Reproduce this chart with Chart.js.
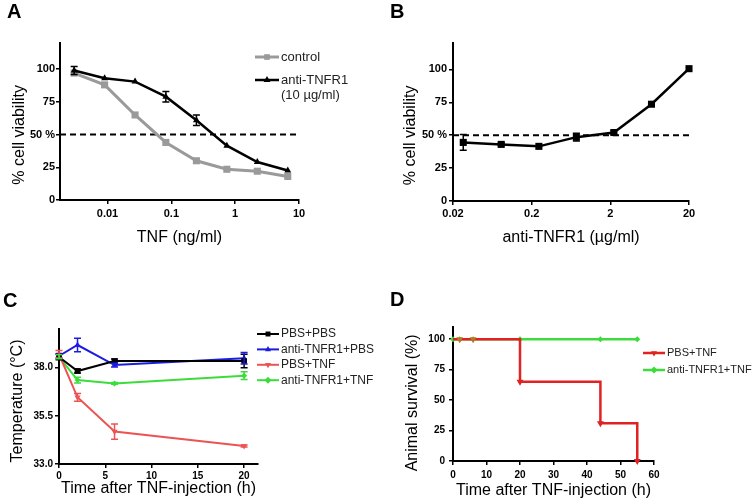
<!DOCTYPE html>
<html>
<head>
<meta charset="utf-8">
<script src="https://cdn.jsdelivr.net/npm/chart.js@4.4.1/dist/chart.umd.min.js"></script>
<style>
  body { margin: 0; background: #fff; }
  #fig { position: relative; width: 754px; height: 504px; }
  #fig canvas { position: absolute; }
</style>
</head>
<body>
<div id="fig">
  <canvas id="chartA" width="377" height="250" style="left:0;top:0"></canvas>
  <canvas id="chartB" width="377" height="250" style="left:377px;top:0"></canvas>
  <canvas id="chartC" width="377" height="254" style="left:0;top:250px"></canvas>
  <canvas id="chartD" width="377" height="254" style="left:377px;top:250px"></canvas>
</div>
<script>
// A - TNF dose response, with / without anti-TNFR1
const tnfDoses = [0.003, 0.009, 0.027, 0.082, 0.247, 0.74, 2.22, 6.67];
const controlViability = [97, 88, 65, 44, 30, 23.5, 22, 18];
const antiTnfr1Viability = [99, 93, 90.5, 79, 61, 41.5, 29, 22.5];
const antiTnfr1Err = [3, 0, 0, 4, 4, 0, 0, 0];
const tnfTicks = [0.01, 0.1, 1, 10];
const viabilityTicks = [0, 25, 50, 75, 100];

// B - anti-TNFR1 titration
const antibodyDoses = [0.027, 0.082, 0.247, 0.74, 2.22, 6.67, 20];
const antibodyViability = [44.5, 43, 41.5, 48.5, 52, 73.5, 100.5];
const antibodyErr = [6, 1, 0, 3, 1.5, 0, 0];
const antibodyTicks = [0.02, 0.2, 2, 20];

// C - body temperature
const tempHours = [0, 2, 6, 20];
const tempPbsPbs = [38.55, 37.82, 38.34, 38.34];
const errPbsPbs = [0.15, 0.1, 0.1, 0.35];
const tempAntiPbs = [38.6, 39.17, 38.13, 38.48];
const errAntiPbs = [0.1, 0.35, 0.1, 0.3];
const tempPbsTnf = [38.69, 36.46, 34.68, 33.93];
const errPbsTnf = [0.2, 0.2, 0.4, 0.05];
const tempAntiTnf = [38.56, 37.35, 37.18, 37.58];
const errAntiTnf = [0.1, 0.15, 0.05, 0.2];
const hourTicksC = [0, 5, 10, 15, 20];
const tempTicks = [33.0, 35.5, 38.0];

// D - survival
const survHours = [0, 2, 6, 20, 44, 55];
const survPbsTnf = [100, 100, 100, 65, 31, 0];
const survAntiTnf = [100, 100, 100, 100, 100, 100];
const hourTicksD = [0, 10, 20, 30, 40, 50, 60];
const survTicks = [0, 25, 50, 75, 100];

const FONT = "'Liberation Sans', Arial, Helvetica, sans-serif";
const pts = (xs, ys) => xs.map((x, i) => ({ x, y: ys[i] }));
// graphpad centres the y titles a bit lower than the plot middle
const pad = (t, n) => t + '\u00a0'.repeat(n);

// vertical error bars from ds.errors
const errorBars = {
  id: 'errorBars',
  afterDatasetsDraw(chart) {
    const ctx = chart.ctx;
    chart.data.datasets.forEach((ds, di) => {
      if (!ds.errors) return;
      const meta = chart.getDatasetMeta(di);
      const yScale = chart.scales[meta.yAxisID];
      ctx.save();
      ctx.strokeStyle = ds.borderColor;
      ctx.lineWidth = 1.5;
      meta.data.forEach((pt, i) => {
        const e = ds.errors[i];
        if (!e) return;
        const v = ds.data[i].y;
        const y1 = yScale.getPixelForValue(v + e);
        const y2 = yScale.getPixelForValue(v - e);
        ctx.beginPath();
        ctx.moveTo(pt.x, y1); ctx.lineTo(pt.x, y2);
        ctx.moveTo(pt.x - 3.5, y1); ctx.lineTo(pt.x + 3.5, y1);
        ctx.moveTo(pt.x - 3.5, y2); ctx.lineTo(pt.x + 3.5, y2);
        ctx.stroke();
      });
      ctx.restore();
    });
  }
};

// graphpad style legend: line segment with marker, then text
const sideLegend = {
  id: 'sideLegend',
  afterDraw(chart, args, o) {
    const ctx = chart.ctx;
    let y = o.y;
    chart.data.datasets.forEach(ds => {
      if (!ds.label) return;
      const lines = [].concat(ds.label);
      ctx.save();
      ctx.strokeStyle = ds.borderColor;
      ctx.lineWidth = ds.borderWidth;
      ctx.beginPath();
      ctx.moveTo(o.x, y);
      ctx.lineTo(o.x + o.lineLen, y);
      ctx.stroke();
      ctx.fillStyle = ds.borderColor;
      Chart.helpers.drawPoint(ctx, {
        pointStyle: ds.pointStyle, radius: o.marker || 3.5, rotation: ds.pointRotation || 0, borderWidth: 0
      }, o.x + o.lineLen / 2, y);
      ctx.fillStyle = '#222';
      ctx.font = o.size + 'px ' + FONT;
      ctx.textBaseline = 'middle';
      lines.forEach((t, k) => ctx.fillText(t, o.x + o.lineLen + 2, y + k * o.lineHeight));
      ctx.restore();
      y += (lines.length - 1) * o.lineHeight + o.rowGap;
    });
  }
};

function axisCfg(o) {
  const horiz = o.horiz;
  return {
    type: o.type || 'linear',
    min: o.min,
    max: o.max,
    border: { display: true, color: '#000', width: 2 },
    grid: { display: true, drawOnChartArea: false, drawTicks: true, tickLength: 4, color: '#000', lineWidth: 1.5 },
    ticks: {
      color: '#000',
      font: { family: FONT, size: o.tickSize, weight: 'bold' },
      padding: o.tickPad,
      autoSkip: false,
      maxRotation: 0,
      callback: o.fmt
    },
    title: {
      display: true,
      text: o.title,
      color: '#000',
      font: { family: FONT, size: 16 },
      padding: horiz ? { top: 0, bottom: o.titlePad } : { top: o.titlePad, bottom: 0 }
    },
    afterBuildTicks: s => { s.ticks = o.ticks.map(v => ({ value: v })); },
    afterFit: s => { if (horiz) s.height = o.size; else s.width = o.size; }
  };
}

function letter(txt, top, bottom) {
  return {
    display: true, text: txt, align: 'start', color: '#000',
    font: { family: FONT, size: 20, weight: 'bold' },
    padding: { top, bottom }
  };
}

const baseOpts = { responsive: false, animation: false, events: [] };
const pct = v => (v === 50 ? '50 %' : String(v));

// ---- A
const xMinA = 0.0018;
new Chart(document.getElementById('chartA'), {
  type: 'line',
  data: {
    datasets: [
      { label: 'control', data: pts(tnfDoses, controlViability), order: 1, clip: false,
        borderColor: '#9a9a9a', backgroundColor: '#9a9a9a', borderWidth: 3,
        pointStyle: 'rect', pointRadius: 5, pointBorderWidth: 0, pointBackgroundColor: '#9a9a9a' },
      { label: ['anti-TNFR1', '(10 µg/ml)'], data: pts(tnfDoses, antiTnfr1Viability), errors: antiTnfr1Err,
        order: 0, clip: false, borderColor: '#000', backgroundColor: '#000', borderWidth: 2.5,
        pointStyle: 'triangle', pointRadius: 4, pointBorderWidth: 0, pointBackgroundColor: '#000' },
      { data: [{ x: xMinA, y: 50 }, { x: 10, y: 50 }], order: 2, borderColor: '#000',
        borderDash: [6, 4], borderWidth: 2, pointRadius: 0 }
    ]
  },
  options: {
    ...baseOpts,
    layout: { padding: { left: 7, right: 78, top: 0, bottom: 0 } },
    plugins: {
      legend: { display: false }, tooltip: { enabled: false },
      title: letter('A', 0, 19),
      sideLegend: { x: 255, y: 57, lineLen: 24, size: 13, lineHeight: 15, rowGap: 23, marker: 4 }
    },
    scales: {
      x: axisCfg({ horiz: true, type: 'logarithmic', min: xMinA, max: 10, ticks: tnfTicks, fmt: v => String(v),
        tickSize: 11, tickPad: 3, title: 'TNF (ng/ml)', titlePad: 2.4, size: 50 }),
      y: axisCfg({ min: 0, max: 120, ticks: viabilityTicks, fmt: pct,
        tickSize: 11, tickPad: 1, title: pad('% cell viability', 6), titlePad: 3.4, size: 53 })
    }
  },
  plugins: [errorBars, sideLegend]
});

// ---- B
new Chart(document.getElementById('chartB'), {
  type: 'line',
  data: {
    datasets: [
      { data: pts(antibodyDoses, antibodyViability), errors: antibodyErr, order: 0, clip: false,
        borderColor: '#000', backgroundColor: '#000', borderWidth: 2.5,
        pointStyle: 'rect', pointRadius: 5, pointBorderWidth: 0, pointBackgroundColor: '#000' },
      { data: [{ x: 0.02, y: 50 }, { x: 20, y: 50 }], order: 1, borderColor: '#000',
        borderDash: [6, 4], borderWidth: 2, pointRadius: 0 }
    ]
  },
  options: {
    ...baseOpts,
    layout: { padding: { left: 13, right: 65, top: 0, bottom: 0 } },
    plugins: {
      legend: { display: false }, tooltip: { enabled: false },
      title: letter('B', 0, 19),
      sideLegend: { x: 0, y: 0, lineLen: 0, size: 12, lineHeight: 15, rowGap: 15 }
    },
    scales: {
      x: axisCfg({ horiz: true, type: 'logarithmic', min: 0.02, max: 20, ticks: antibodyTicks, fmt: v => String(v),
        tickSize: 11, tickPad: 2, title: 'anti-TNFR1 (µg/ml)', titlePad: 2.4, size: 49 }),
      y: axisCfg({ min: 0, max: 120, ticks: viabilityTicks, fmt: pct,
        tickSize: 11, tickPad: 2, title: pad('% cell viability', 6), titlePad: 11.4, size: 63 })
    }
  },
  plugins: [errorBars, sideLegend]
});

// ---- C
const RED_C = '#ec5454', GREEN = '#3ddc3d';
new Chart(document.getElementById('chartC'), {
  type: 'line',
  data: {
    datasets: [
      { label: 'PBS+PBS', data: pts(tempHours, tempPbsPbs), errors: errPbsPbs, clip: false,
        borderColor: '#000', borderWidth: 2, pointStyle: 'rect', pointRadius: 4,
        pointBorderWidth: 0, pointBackgroundColor: '#000' },
      { label: 'anti-TNFR1+PBS', data: pts(tempHours, tempAntiPbs), errors: errAntiPbs, clip: false,
        borderColor: '#1c1ce0', borderWidth: 2, pointStyle: 'triangle', pointRadius: 3.5,
        pointBorderWidth: 0, pointBackgroundColor: '#1c1ce0' },
      { label: 'PBS+TNF', data: pts(tempHours, tempPbsTnf), errors: errPbsTnf, clip: false,
        borderColor: RED_C, borderWidth: 2, pointStyle: 'triangle', pointRotation: 180, pointRadius: 3.5,
        pointBorderWidth: 0, pointBackgroundColor: RED_C },
      { label: 'anti-TNFR1+TNF', data: pts(tempHours, tempAntiTnf), errors: errAntiTnf, clip: false,
        borderColor: GREEN, borderWidth: 2, pointStyle: 'rectRot', pointRadius: 3,
        pointBorderWidth: 0, pointBackgroundColor: GREEN }
    ]
  },
  options: {
    ...baseOpts,
    layout: { padding: { left: 3, right: 119, top: 0, bottom: 0 } },
    plugins: {
      legend: { display: false }, tooltip: { enabled: false },
      title: letter('C', 39.5, 15.5),
      sideLegend: { x: 257, y: 84, lineLen: 22, size: 12, lineHeight: 14, rowGap: 15.4, marker: 3.5 }
    },
    scales: {
      x: axisCfg({ horiz: true, min: 0, max: 21.5, ticks: hourTicksC, fmt: v => String(v),
        tickSize: 10, tickPad: 2.7, title: 'Time after TNF-injection (h)', titlePad: 5.4, size: 40 }),
      y: axisCfg({ min: 33, max: 40, ticks: tempTicks, fmt: v => v.toFixed(1),
        tickSize: 10, tickPad: 2, title: pad('Temperature (°C)', 2), titlePad: 5.4, size: 56 })
    }
  },
  plugins: [errorBars, sideLegend]
});

// ---- D
const RED_D = '#e02222';
new Chart(document.getElementById('chartD'), {
  type: 'line',
  data: {
    datasets: [
      { label: 'PBS+TNF', data: pts(survHours, survPbsTnf), stepped: 'before', clip: false,
        borderColor: RED_D, borderWidth: 2.5, pointStyle: 'triangle', pointRotation: 180,
        pointRadius: c => (c.dataIndex === 0 ? 0 : 4), pointBorderWidth: 0,
        pointBackgroundColor: c => (survAntiTnf[c.dataIndex] === survPbsTnf[c.dataIndex] ? '#b8762c' : RED_D) },
      { label: 'anti-TNFR1+TNF', data: pts(survHours, survAntiTnf), clip: false,
        borderColor: GREEN, borderWidth: 2.5, pointStyle: 'rectRot', pointRadius: 3,
        pointBorderWidth: 0, pointBackgroundColor: GREEN }
    ]
  },
  options: {
    ...baseOpts,
    layout: { padding: { left: 13, right: 100, top: 0, bottom: 0 } },
    plugins: {
      legend: { display: false }, tooltip: { enabled: false },
      title: letter('D', 38.5, 14.5),
      sideLegend: { x: 266, y: 103, lineLen: 22, size: 11, lineHeight: 14, rowGap: 17, marker: 3.5 }
    },
    scales: {
      x: axisCfg({ horiz: true, min: 0, max: 60, ticks: hourTicksD, fmt: v => String(v),
        tickSize: 10, tickPad: 4, title: 'Time after TNF-injection (h)', titlePad: 3.4, size: 43 }),
      y: axisCfg({ min: 0, max: 110, ticks: survTicks, fmt: v => String(v),
        tickSize: 10, tickPad: 4, title: pad('Animal survival (%)', 4), titlePad: 13.4, size: 63 })
    }
  },
  plugins: [errorBars, sideLegend]
});
</script>
</body>
</html>
